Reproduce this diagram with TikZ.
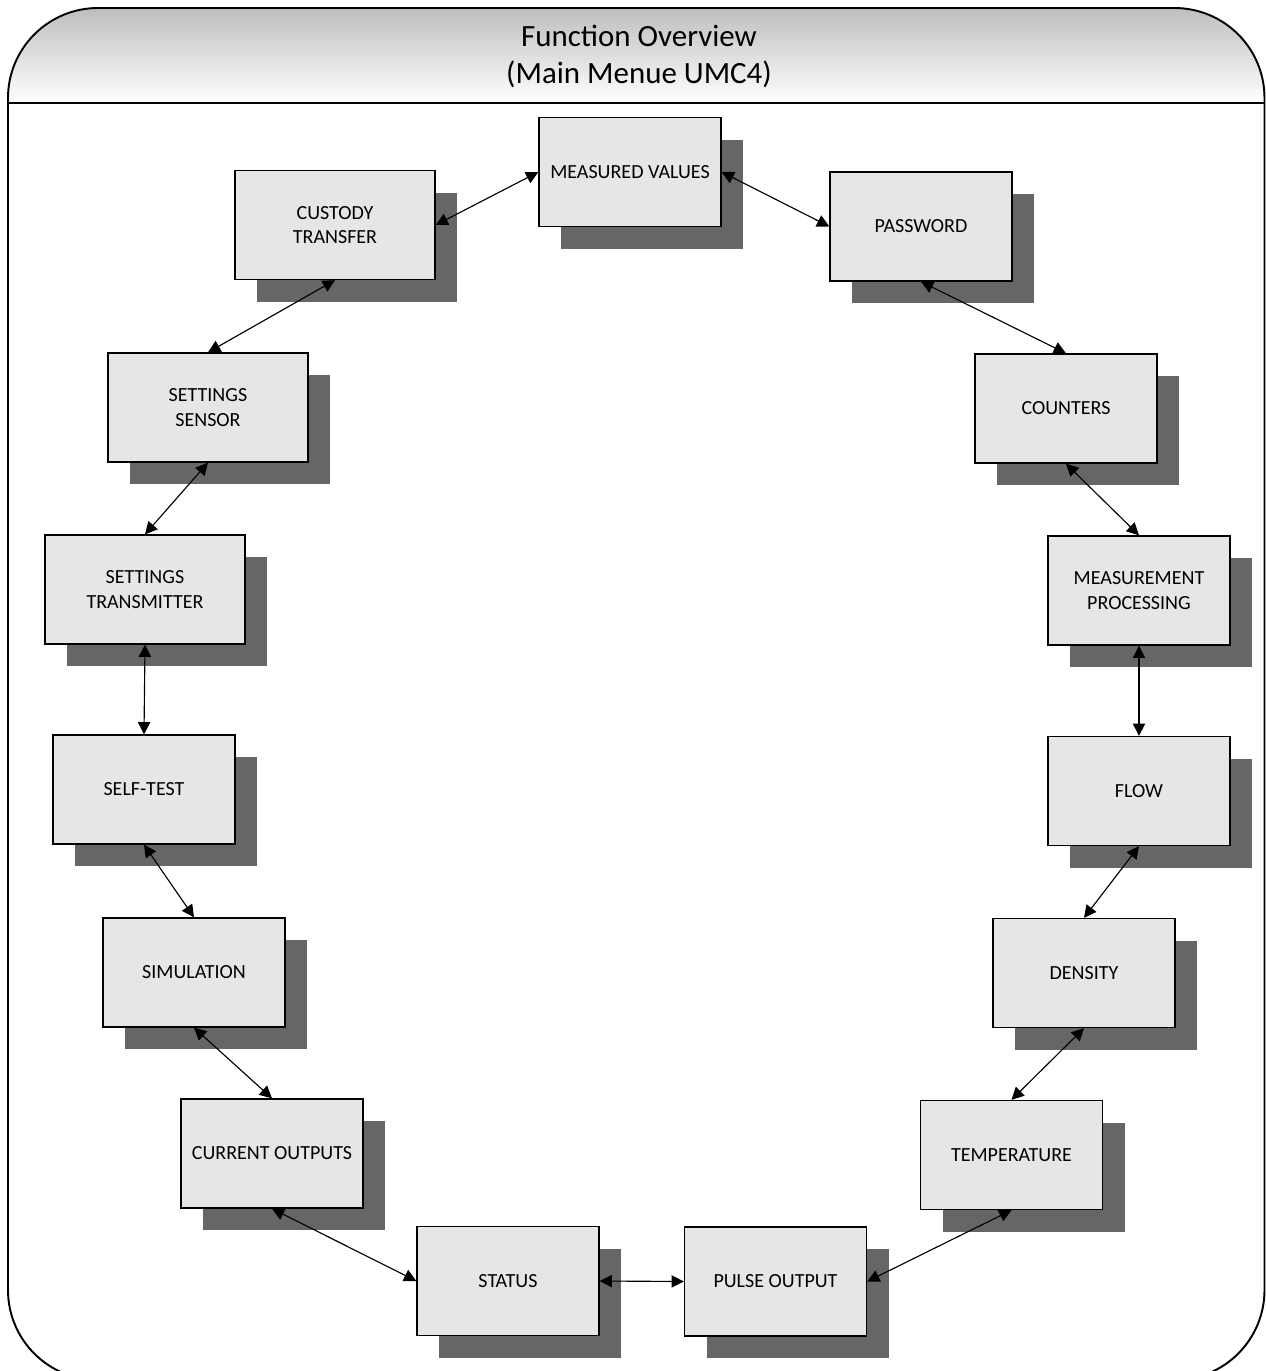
\documentclass[tikz,border=0pt]{standalone}
\usepackage{fontspec}
\setmainfont{Carlito}
\usetikzlibrary{arrows.meta, shadows}
\definecolor{cbox}{HTML}{E6E6E6}
\definecolor{cshadow}{HTML}{666666}
\definecolor{cband}{HTML}{BEBEBE}
\tikzset{
  every picture/.style={line width=0.75pt},
  menu/.style={draw=black, fill=cbox, align=center, inner sep=4pt,
    minimum width=3.64cm, minimum height=2.18cm, font=\fontsize{11.4}{13.8}\selectfont,
    drop shadow={shadow xshift=0.44cm, shadow yshift=-0.44cm, fill=cshadow, opacity=1}},
  menuwide/.style={menu, minimum width=4cm},
  link/.style={{Triangle[length=7pt,width=7pt]}-{Triangle[length=7pt,width=7pt]}, line width=0.65pt},
  title/.style={align=center, font=\fontsize{17.6}{21}\selectfont},
}

\begin{document}
\begin{tikzpicture}
  \clip (0,0) rectangle (25.32,-27.42);
  \fill[white] (0,0) rectangle (25.32,-27.42);

  % frame and title band
  \shade[top color=cband, bottom color=white]
    (0.16,-2.06) {[rounded corners=1.8cm] -- (0.16,-0.16) -- (25.29,-0.16)} -- (25.29,-2.06) -- cycle;
  \draw[line width=1.1pt, rounded corners=1.8cm] (0.16,-27.6) rectangle (25.29,-0.16);
  \draw[line width=1.1pt] (0.16,-2.06) -- (25.29,-2.06);
  \node[title] (head) at (12.78,-1.12) {Function Overview\\(Main Menue UMC4)};

  % menu items
  \node[menu] (mv) at (12.60,-3.44) {MEASURED VALUES};
  \node[menu] (pw) at (18.42,-4.53) {PASSWORD};
  \node[menuwide] (ct) at (6.70,-4.50) {CUSTODY\\TRANSFER};
  \node[menu] (co) at (21.32,-8.17) {COUNTERS};
  \node[menuwide] (ss) at (4.16,-8.15) {SETTINGS\\SENSOR};
  \node[menu] (mp) at (22.78,-11.81) {MEASUREMENT\\PROCESSING};
  \node[menuwide] (st) at (2.90,-11.79) {SETTINGS\\TRANSMITTER};
  \node[menu] (fl) at (22.78,-15.82) {FLOW};
  \node[menu] (te) at (2.88,-15.79) {SELF-TEST};
  \node[menu] (de) at (21.68,-19.46) {DENSITY};
  \node[menu] (si) at (3.88,-19.45) {SIMULATION};
  \node[menu] (tp) at (20.23,-23.10) {TEMPERATURE};
  \node[menu] (cu) at (5.44,-23.07) {CURRENT OUTPUTS};
  \node[menu] (sa) at (10.16,-25.62) {STATUS};
  \node[menu] (po) at (15.51,-25.63) {PULSE OUTPUT};

  % ring of links
  \draw[link] (ct.east) -- (mv.west);
  \draw[link] (mv.east) -- (pw.west);
  \draw[link] (pw.south) -- (co.north);
  \draw[link] (co.south) -- (mp.north);
  \draw[link] (mp.south) -- (fl.north);
  \draw[link] (fl.south) -- (de.north);
  \draw[link] (de.south) -- (tp.north);
  \draw[link] (tp.south) -- (po.east);
  \draw[link] (po.west) -- (sa.east);
  \draw[link] (sa.west) -- (cu.south);
  \draw[link] (cu.north) -- (si.south);
  \draw[link] (si.north) -- (te.south);
  \draw[link] (te.north) -- (st.south);
  \draw[link] (st.north) -- (ss.south);
  \draw[link] (ss.north) -- (ct.south);
\end{tikzpicture}
\end{document}
